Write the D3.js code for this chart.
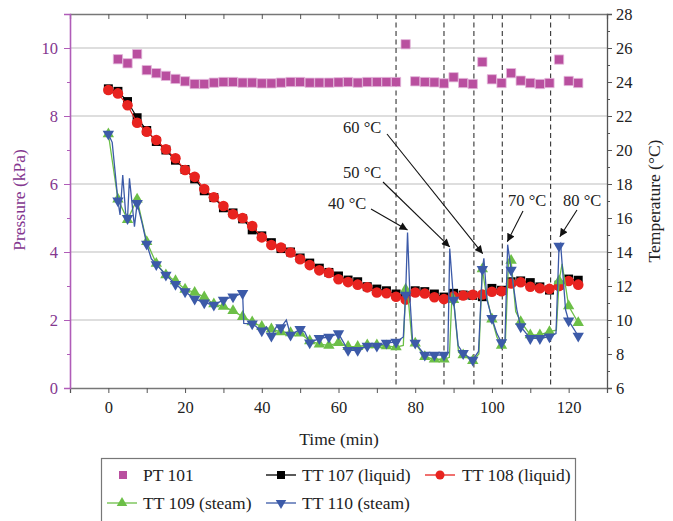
<!DOCTYPE html>
<html><head><meta charset="utf-8">
<script src="https://cdn.jsdelivr.net/npm/d3@7"></script>
<style>body{margin:0;background:#fff}svg{display:block}</style>
</head><body><svg id="c" width="673" height="521"></svg>
<script>
// ---- data ----
const ptTimes = [2.5,5,7.5,10,12.5,15,17.5,20,22.5,25,27.5,30,32.5,35,37.5,40,42.5,45,47.5,50,52.5,55,57.5,60,62.5,65,67.5,70,72.5,75,77.5,80,82.5,85,87.5,90,92.5,95,97.5,100,102.5,105,107.5,110,112.5,115,117.5,120,122.5];
const pt101 = [9.67,9.55,9.82,9.35,9.26,9.18,9.09,9.02,8.94,8.94,8.98,9.0,9.0,8.98,8.98,8.96,8.96,8.98,9.0,9.0,8.98,8.98,8.98,8.99,9.0,8.98,9.0,9.0,9.0,9.0,10.11,9.02,9.0,8.99,8.96,9.14,8.97,8.94,9.59,9.08,8.97,9.26,9.04,8.97,8.94,8.97,9.66,9.03,8.97];
const times = [0,2.5,5,7.5,10,12.5,15,17.5,20,22.5,25,27.5,30,32.5,35,37.5,40,42.5,45,47.5,50,52.5,55,57.5,60,62.5,65,67.5,70,72.5,75,77.5,80,82.5,85,87.5,90,92.5,95,97.5,100,102.5,105,107.5,110,112.5,115,117.5,120,122.5];
const tt107 = [23.6,23.45,22.85,21.9,21.15,20.5,20.0,19.4,18.85,18.3,17.6,17.2,16.6,16.3,15.95,15.3,14.95,14.55,14.2,14.0,13.65,13.35,13.05,12.8,12.59,12.35,12.25,11.96,11.82,11.72,11.53,11.4,11.72,11.67,11.53,11.35,11.57,11.47,11.45,11.37,11.86,11.75,12.25,12.3,12.2,11.95,11.76,12.05,12.41,12.34];
const tt108 = [23.53,23.33,22.63,21.6,21.08,20.59,20.04,19.51,18.82,18.42,17.71,17.22,16.71,16.22,16.0,15.53,14.86,14.41,14.26,13.97,13.57,13.23,12.92,12.77,12.4,12.23,12.08,11.92,11.62,11.57,11.37,11.2,11.62,11.56,11.34,11.23,11.39,11.44,11.48,11.5,11.66,11.69,12.15,12.22,11.96,11.87,11.83,12.0,12.29,12.08];
const tt109 = [20.94,17.1,15.9,17.1,14.6,13.32,12.65,12.3,11.8,11.62,11.35,10.94,10.8,10.54,10.2,9.88,9.61,9.46,9.3,9.24,9.22,8.77,8.58,8.5,8.67,8.43,8.43,8.53,8.53,8.47,8.41,11.8,8.63,7.84,7.69,7.69,11.2,7.94,7.6,13.0,10.05,8.5,13.5,9.9,9.12,9.12,9.31,12.3,10.82,9.84];
const tt110 = [20.94,17.02,15.98,16.86,14.47,13.27,12.65,12.1,11.67,11.24,11.02,10.88,11.18,11.37,11.57,9.78,9.37,9.06,9.55,9.12,9.45,8.66,8.92,9.0,9.2,8.22,8.22,8.47,8.47,8.65,8.7,11.47,8.65,7.94,7.94,7.94,11.18,8.04,7.65,12.98,10.1,8.67,12.94,9.61,8.92,8.92,9.02,14.35,9.96,9.06];
// continuous recorder traces (markers are every 2.5 min)
const tt109LineT = [0,2.5,5,7.5,10,12.5,15,17.5,20,22.5,25,27.5,30,32.5,35,37.5,40,42.5,45,47.5,50,52.5,55,57.5,60,62.5,65,67.5,70,72.5,75,76.9,77.5,78.2,79.2,80,82.5,85,87.5,88.9,89.6,90,91.3,92.5,95,96.6,97.5,98.5,100,101.3,102.5,103.5,104.3,105,106.2,107.5,110,112.5,115,116.8,117.5,118.3,120,122.5];
const tt109LineV = [20.94,17.1,15.9,17.1,14.6,13.32,12.65,12.3,11.8,11.62,11.35,10.94,10.8,10.54,10.2,9.88,9.61,9.46,9.3,9.24,9.22,8.77,8.58,8.5,8.67,8.43,8.43,8.53,8.53,8.47,8.41,8.5,11.8,11.2,8.7,8.63,7.84,7.69,7.69,7.8,11.6,11.2,8.1,7.94,7.6,8.0,13.0,11.5,10.05,9.0,8.5,8.7,13.3,13.5,10.5,9.9,9.12,9.12,9.31,9.4,12.3,13.3,10.82,9.84];
const tt110LineT = [0,1.0,2.5,3.05,3.75,4.5,5,5.5,6.8,7.5,8.8,10,11.2,12.5,15,17.5,20,22.5,25,27.5,30,32.5,35,35.3,37.5,40,41.2,42.5,43.8,45,46.4,47.5,50,51.2,52.5,55,57.5,60,62.5,65,67.5,70,72.5,75,76.9,77.5,78.0,78.7,79.3,80,82.5,85,87.5,88.5,89.0,90,91.2,92.5,95,96.5,97.5,97.9,98.7,100,101.3,102.5,103.4,104.1,105,106.5,107.5,110,112.5,115,116.7,117.5,117.9,119.2,120,122.5];
const tt110LineV = [20.94,20.45,17.02,16.18,18.53,16.3,15.98,18.33,15.49,16.86,15.7,14.47,13.6,13.27,12.65,12.1,11.67,11.24,11.02,10.88,11.18,11.37,11.57,9.8,9.78,9.37,9.6,9.06,9.6,9.55,10.0,9.12,9.45,9.3,8.66,8.92,9.0,9.2,8.22,8.22,8.47,8.47,8.65,8.7,9.0,11.47,15.15,11.0,8.8,8.65,7.94,7.94,7.94,8.1,14.2,11.18,8.5,8.04,7.65,8.15,12.98,13.63,11.2,10.1,9.2,8.67,8.8,14.43,12.94,10.6,9.61,8.92,8.92,9.02,9.2,14.35,14.5,10.6,9.96,9.06];
const stageTimes = [75,87.5,95.3,102.7,115.3];
const notes = [
  {label:"40 °C", tx:328, ty:209, x1:371, y1:209, t:78.0, v:15.3},
  {label:"50 °C", tx:343, ty:178, x1:383, y1:182, t:89.0, v:14.3},
  {label:"60 °C", tx:343, ty:133, x1:387, y1:134, t:97.6, v:13.9},
  {label:"70 °C", tx:508, ty:206, x1:523, y1:211, t:104.0, v:14.6},
  {label:"80 °C", tx:563, ty:206, x1:577, y1:210, t:117.7, v:14.9}
];
const xTicks = [-10,0,10,20,30,40,50,60,70,80,90,100,110,120,130];
const xLabels = [0,20,40,60,80,100,120];
const pTicks = [0,1,2,3,4,5,6,7,8,9,10,11];
const pLabels = [0,2,4,6,8,10];
const tTicks = [6,7,8,9,10,11,12,13,14,15,16,17,18,19,20,21,22,23,24,25,26,27,28];
const tLabels = [6,8,10,12,14,16,18,20,22,24,26,28];

// ---- chart ----
const FONT = "'Liberation Serif', 'Times New Roman', Times, 'DejaVu Serif', serif";
const svg = d3.select("#c").style("font-family", FONT);
const L=70,R=607,T=14,B=388;
const x = d3.scaleLinear().domain([-10,130]).range([L,R]);
const yP = d3.scaleLinear().domain([0,11]).range([B,T]);
const yT = d3.scaleLinear().domain([6,28]).range([B,T]);
const purple="#84378f", purpleLine="#b05cb8";

// gridlines
svg.append("g").selectAll("line").data(pLabels.filter(d=>d>0)).join("line")
  .attr("x1",L).attr("x2",R).attr("y1",d=>yP(d)).attr("y2",d=>yP(d))
  .attr("stroke","#d3d3d3").attr("stroke-width",1.5);

// stage dashed lines
svg.append("g").selectAll("line").data(stageTimes).join("line")
  .attr("x1",d=>x(d)).attr("x2",d=>x(d)).attr("y1",T).attr("y2",B)
  .attr("stroke","#333").attr("stroke-width",1.1).attr("stroke-dasharray","5,3.5");

// axes
function styleText(sel,size){ sel.style("font-family",FONT).attr("font-size",size||16.5); }
const gx = svg.append("g").attr("transform",`translate(0,${B})`)
  .call(d3.axisBottom(x).tickValues(xTicks).tickSize(5).tickFormat(d=>xLabels.includes(d)?d:""));
gx.attr("font-family",null);
gx.select(".domain").attr("stroke","#777").attr("stroke-width",1.3);
gx.selectAll(".tick line").attr("stroke","#555");
gx.selectAll(".tick text").call(styleText).attr("fill","#222").attr("dy","1.0em");

const gxt = svg.append("g").attr("transform",`translate(0,${T})`)
  .call(d3.axisBottom(x).tickValues(xTicks).tickSize(5).tickFormat(""));
gxt.select(".domain").attr("stroke","#777").attr("stroke-width",1.3);
gxt.selectAll(".tick line").attr("stroke","#555");

const gl = svg.append("g").attr("transform",`translate(${L},0)`)
  .call(d3.axisLeft(yP).tickValues(pTicks).tickSize(6).tickFormat(d=>pLabels.includes(d)?d:""));
gl.attr("font-family",null);
gl.select(".domain").attr("stroke",purpleLine).attr("stroke-width",1.6);
gl.selectAll(".tick line").attr("stroke",purpleLine).attr("x2",d=>pLabels.includes(d)?-6:-3);
gl.selectAll(".tick text").call(styleText).attr("fill",purple).attr("x",-12);

const gr = svg.append("g").attr("transform",`translate(${R},0)`)
  .call(d3.axisRight(yT).tickValues(tTicks).tickSize(5).tickFormat(d=>tLabels.includes(d)?d:""));
gr.attr("font-family",null);
gr.select(".domain").attr("stroke","#555").attr("stroke-width",1.3);
gr.selectAll(".tick line").attr("stroke","#555").attr("x2",d=>tLabels.includes(d)?5:3);
gr.selectAll(".tick text").call(styleText).attr("fill","#222").attr("x",9);

// axis titles
svg.append("text").attr("transform","translate(25,200) rotate(-90)").attr("text-anchor","middle")
  .call(styleText,17.5).attr("fill",purple).text("Pressure (kPa)");
svg.append("text").attr("transform","translate(660,201) rotate(-90)").attr("text-anchor","middle")
  .call(styleText,17.5).attr("fill","#222").text("Temperature (°C)");
svg.append("text").attr("x",339).attr("y",445).attr("text-anchor","middle")
  .call(styleText,17.5).attr("fill","#222").text("Time (min)");

// series
const colors = {pt:"#b94f9f", black:"#000", red:"#e8231f", green:"#6cbf47", blue:"#3c5aa8"};
const sym = (type,size)=>d3.symbol().type(type).size(size)();
const lineT = d3.line().x(d=>x(d[0])).y(d=>yT(d[1]));

// PT101
svg.append("g").selectAll("path").data(ptTimes.map((t,i)=>[t,pt101[i]])).join("path")
  .attr("d",sym(d3.symbolSquare,86)).attr("transform",d=>`translate(${x(d[0])},${yP(d[1])})`)
  .attr("fill",colors.pt).attr("stroke","#e3b8db").attr("stroke-width",0.8);

// TT107
const d107 = times.map((t,i)=>[t,tt107[i]]);
svg.append("path").datum(d107).attr("d",lineT).attr("fill","none").attr("stroke",colors.black).attr("stroke-width",1.2);
svg.append("g").selectAll("path").data(d107).join("path")
  .attr("d",sym(d3.symbolSquare,80)).attr("transform",d=>`translate(${x(d[0])},${yT(d[1])})`).attr("fill",colors.black);

// TT108
const d108 = times.map((t,i)=>[t,tt108[i]]);
svg.append("path").datum(d108).attr("d",lineT).attr("fill","none").attr("stroke",colors.red).attr("stroke-width",1.2);
svg.append("g").selectAll("path").data(d108).join("path")
  .attr("d",sym(d3.symbolCircle,88)).attr("transform",d=>`translate(${x(d[0])},${yT(d[1])})`).attr("fill",colors.red);

// TT109
svg.append("path").datum(tt109LineT.map((t,i)=>[t,tt109LineV[i]])).attr("d",lineT)
  .attr("fill","none").attr("stroke",colors.green).attr("stroke-width",1.3);
svg.append("g").selectAll("path").data(times.map((t,i)=>[t,tt109[i]])).join("path")
  .attr("d",sym(d3.symbolTriangle,56)).attr("transform",d=>`translate(${x(d[0])},${yT(d[1])})`).attr("fill",colors.green);

// TT110
svg.append("path").datum(tt110LineT.map((t,i)=>[t,tt110LineV[i]])).attr("d",lineT)
  .attr("fill","none").attr("stroke",colors.blue).attr("stroke-width",1.3);
svg.append("g").selectAll("path").data(times.map((t,i)=>[t,tt110[i]])).join("path")
  .attr("d",sym(d3.symbolTriangle,56)).attr("transform",d=>`translate(${x(d[0])},${yT(d[1])}) rotate(180)`).attr("fill",colors.blue);

// annotations
const defs = svg.append("defs");
defs.append("marker").attr("id","ah").attr("viewBox","0 0 10 10").attr("refX",10).attr("refY",5)
  .attr("markerWidth",13).attr("markerHeight",8).attr("markerUnits","userSpaceOnUse").attr("orient","auto")
  .append("path").attr("d","M0,0 L10,5 L0,10 Z").attr("fill","#111");
const gn = svg.append("g");
notes.forEach(n=>{
  gn.append("text").attr("x",n.tx).attr("y",n.ty).call(styleText,16.5).attr("fill","#222").text(n.label);
  gn.append("line").attr("x1",n.x1).attr("y1",n.y1).attr("x2",x(n.t)).attr("y2",yT(n.v))
    .attr("stroke","#111").attr("stroke-width",1.1).attr("marker-end","url(#ah)");
});

// legend
const lg = svg.append("g");
lg.append("rect").attr("x",101.5).attr("y",458.5).attr("width",474).attr("height",80)
  .attr("fill","#fff").attr("stroke","#777").attr("stroke-width",1.2);
const legendItems = [
  {label:"PT 101", c:colors.pt, s:d3.symbolSquare, line:false, lx:123, tx:143, y:475},
  {label:"TT 107 (liquid)", c:colors.black, s:d3.symbolSquare, line:true, lx:281, tx:302, y:475},
  {label:"TT 108 (liquid)", c:colors.red, s:d3.symbolCircle, line:true, lx:440, tx:462, y:475},
  {label:"TT 109 (steam)", c:colors.green, s:d3.symbolTriangle, line:true, lx:122, tx:143, y:503},
  {label:"TT 110 (steam)", c:colors.blue, s:d3.symbolTriangle, line:true, lx:281, tx:302, y:503, rot:true}
];
legendItems.forEach(it=>{
  if(it.line) lg.append("line").attr("x1",it.lx-15).attr("x2",it.lx+15).attr("y1",it.y).attr("y2",it.y)
    .attr("stroke",it.c).attr("stroke-width",1.3);
  lg.append("path").attr("d",sym(it.s, it.s===d3.symbolTriangle?48:64))
    .attr("transform",`translate(${it.lx},${it.y})${it.rot?" rotate(180)":""}`).attr("fill",it.c);
  lg.append("text").attr("x",it.tx).attr("y",it.y+6).call(styleText,17.5).attr("fill","#222").text(it.label);
});
</script></body></html>
